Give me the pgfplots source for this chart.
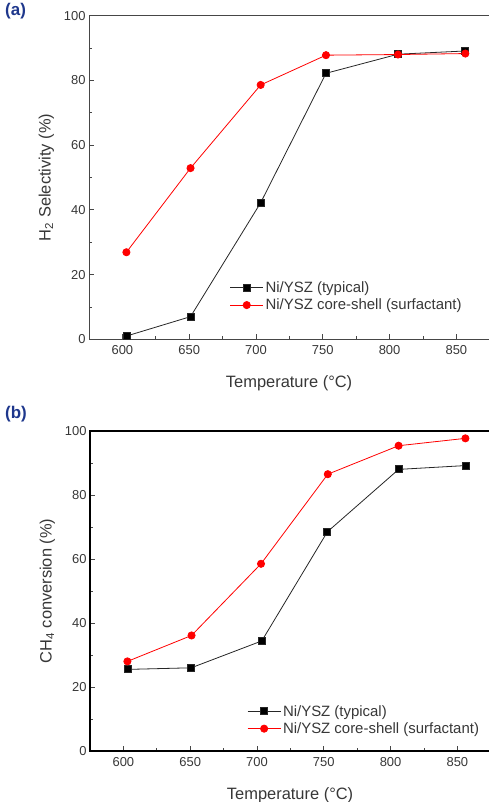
\documentclass[border=0pt]{standalone}
\usepackage{fontspec}
\setmainfont{Liberation Sans}
\usepackage{pgfplots}
\pgfplotsset{compat=1.18}
\definecolor{txt}{RGB}{55,55,55}
\definecolor{panelblue}{RGB}{30,55,140}
\definecolor{ax}{RGB}{70,70,70}

\pgfplotsset{
  panel/.style={
    scale only axis, width=410bp,
    xmin=575, xmax=881.9, ymin=0, ymax=100,
    xtick={600,650,...,850}, ytick={0,20,...,100},
    minor x tick num=1, minor y tick num=1,
    tick align=inside, xtick pos=bottom, ytick pos=left,
    major tick length=5bp, minor tick length=3bp,
    axis line style={ax, line width=0.9bp},
    tick style={ax, line width=0.8bp},
    ticklabel style={font=\fontsize{13}{15}\selectfont, text=txt},
    xticklabel style={yshift=-3bp},
    label style={font=\fontsize{16.5}{19}\selectfont, text=txt},
    /pgf/number format/assume math mode=true,
    xlabel style={at={(ticklabel cs:0.488)}, yshift=-14bp},
    ylabel style={yshift=3bp},
    legend cell align=left,
    legend style={draw=none, fill=none, inner sep=0pt, row sep=1bp,
      font=\fontsize{15}{18}\selectfont, text=txt, anchor=north west},
    legend image code/.code={
      \draw[mark repeat=2, mark phase=2] plot coordinates {(0bp,0bp) (16.5bp,0bp) (33bp,0bp)};},
  },
  typ/.style={black!85, line width=0.8bp, mark=square*, mark size=3.5bp, mark options={solid, fill=black}},
  core/.style={red, line width=0.8bp, mark=*, mark size=3.6bp, mark options={solid, fill=red}},
}

\begin{document}
\begin{tikzpicture}
\useasboundingbox (0bp,0bp) rectangle (489bp,802bp);

% (a) H2 selectivity
\begin{axis}[panel, height=323.6bp, at={(89bp,462.7bp)}, anchor=south west,
    xlabel={Temperature (°C)}, ylabel={H\textsubscript{2} Selectivity (\%)},
    legend style={at={(axis description cs:0.343,0.185)}}]
\addplot[typ] coordinates {(603,1.0) (651,7.0) (703.5,42.2) (752.4,82.2) (806.3,88.1) (856.7,89.1)};
\addlegendentry{Ni/YSZ (typical)}
\addplot[core] coordinates {(603,26.9) (651,52.9) (703.5,78.6) (752.4,87.8) (806.3,88.0) (856.7,88.3)};
\addlegendentry{Ni/YSZ core-shell (surfactant)}
\end{axis}

% (b) CH4 conversion
\begin{axis}[panel, height=320bp, at={(90bp,51bp)}, anchor=south west,
    axis line style={black, line width=1.1bp},
    xlabel={Temperature (°C)}, ylabel={CH\textsubscript{4} conversion (\%)},
    legend style={at={(axis description cs:0.383,0.15)}}]
\addplot[typ] coordinates {(603,25.5) (650.8,26.0) (703.6,34.4) (752.7,68.5) (806,88.0) (856.3,89.2)};
\addlegendentry{Ni/YSZ (typical)}
\addplot[core] coordinates {(603,28.0) (651,36.1) (703,58.5) (753,86.5) (806,95.4) (856,97.7)};
\addlegendentry{Ni/YSZ core-shell (surfactant)}
\end{axis}

\node[anchor=north west, inner sep=0pt, text=panelblue, font=\bfseries\fontsize{17}{19}\selectfont] at (5bp,799bp) {(a)};
\node[anchor=north west, inner sep=0pt, text=panelblue, font=\bfseries\fontsize{17}{19}\selectfont] at (5bp,396bp) {(b)};
\end{tikzpicture}
\end{document}
